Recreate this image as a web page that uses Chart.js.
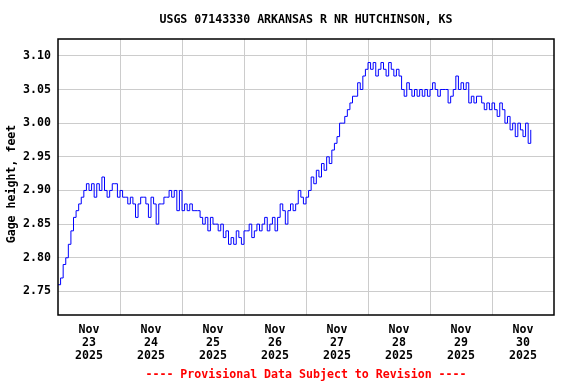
<!DOCTYPE html>
<html><head><meta charset="utf-8">
<script src="https://cdn.jsdelivr.net/npm/chart.js@4/dist/chart.umd.min.js"></script>
<style>html,body{margin:0;padding:0;background:#fff;}canvas{display:block;}</style>
</head><body>
<canvas id="c" width="576" height="384"></canvas>
<script>
const titleText = 'USGS 07143330 ARKANSAS R NR HUTCHINSON, KS';
const yAxisTitle = 'Gage height, feet';
const footerText = '---- Provisional Data Subject to Revision ----';
// x axis: hours since Nov 23 2025 00:00
const dayLabelHours = [12, 36, 60, 84, 108, 132, 156, 180];
const dayLabels = [['Nov','23','2025'],['Nov','24','2025'],['Nov','25','2025'],['Nov','26','2025'],
                   ['Nov','27','2025'],['Nov','28','2025'],['Nov','29','2025'],['Nov','30','2025']];
const dayGridHours = [24, 48, 72, 96, 120, 144, 168];
const yTicks = [2.75, 2.80, 2.85, 2.90, 2.95, 3.00, 3.05, 3.10];
// hourly gage height readings (feet), starting Nov 23 00:00
const gageHeight = [
  2.76, 2.77, 2.79, 2.80, 2.82, 2.84, 2.86, 2.87, 2.88, 2.89, 2.90, 2.91,
  2.90, 2.91, 2.89, 2.91, 2.90, 2.92, 2.90, 2.89, 2.90, 2.91, 2.91, 2.89,
  2.90, 2.89, 2.89, 2.88, 2.89, 2.88, 2.86, 2.88, 2.89, 2.89, 2.88, 2.86,
  2.89, 2.88, 2.85, 2.88, 2.88, 2.89, 2.89, 2.90, 2.89, 2.90, 2.87, 2.90,
  2.87, 2.88, 2.87, 2.88, 2.87, 2.87, 2.87, 2.86, 2.85, 2.86, 2.84, 2.86,
  2.85, 2.85, 2.84, 2.85, 2.83, 2.84, 2.82, 2.83, 2.82, 2.84, 2.83, 2.82,
  2.84, 2.84, 2.85, 2.83, 2.84, 2.85, 2.84, 2.85, 2.86, 2.84, 2.85, 2.86,
  2.84, 2.86, 2.88, 2.87, 2.85, 2.87, 2.88, 2.87, 2.88, 2.90, 2.89, 2.88,
  2.89, 2.90, 2.92, 2.91, 2.93, 2.92, 2.94, 2.93, 2.95, 2.94, 2.96, 2.97,
  2.98, 3.00, 3.00, 3.01, 3.02, 3.03, 3.04, 3.04, 3.06, 3.05, 3.07, 3.08,
  3.09, 3.08, 3.09, 3.07, 3.08, 3.09, 3.08, 3.07, 3.09, 3.08, 3.07, 3.08,
  3.07, 3.05, 3.04, 3.06, 3.05, 3.04, 3.05, 3.04, 3.05, 3.04, 3.05, 3.04,
  3.05, 3.06, 3.05, 3.04, 3.05, 3.05, 3.05, 3.03, 3.04, 3.05, 3.07, 3.05,
  3.06, 3.05, 3.06, 3.03, 3.04, 3.03, 3.04, 3.04, 3.03, 3.02, 3.03, 3.02,
  3.03, 3.02, 3.01, 3.03, 3.02, 3.00, 3.01, 2.99, 3.00, 2.98, 3.00, 2.99,
  2.98, 3.00, 2.97, 2.99
];
const points = gageHeight.map((v, i) => ({x: i, y: v}));

const FONT = 'DejaVu Sans Mono';
const decor = {
  id: 'decor',
  afterDraw(chart) {
    const ctx = chart.ctx, a = chart.chartArea;
    ctx.save();
    ctx.strokeStyle = '#000';
    ctx.lineWidth = 1.5;
    ctx.strokeRect(a.left, a.top, a.right - a.left, a.bottom - a.top);
    ctx.font = 'bold 11.6px "' + FONT + '"';
    ctx.textAlign = 'center';
    ctx.textBaseline = 'middle';
    ctx.fillStyle = '#000';
    ctx.fillText(titleText, 306, 20);
    ctx.fillStyle = '#ff0000';
    ctx.fillText(footerText, 306, 375);
    ctx.fillStyle = '#000';
    ctx.translate(12, 184);
    ctx.rotate(-Math.PI / 2);
    ctx.fillText(yAxisTitle, 0, 0);
    ctx.restore();
  }
};

new Chart(document.getElementById('c'), {
  type: 'line',
  data: { datasets: [{ data: points, borderColor: '#0000ff', borderWidth: 1, pointRadius: 0, stepped: true, fill: false }] },
  options: {
    responsive: false, animation: false, devicePixelRatio: 1,
    layout: { padding: { top: 39, right: 22, left: 0, bottom: 0 } },
    plugins: { legend: { display: false }, title: { display: false }, tooltip: { enabled: false } },
    scales: {
      x: {
        type: 'linear', min: 0, max: 192,
        afterBuildTicks(s) {
          s.ticks = dayGridHours.map(v => ({value: v, kind: 'grid'})).concat(dayLabelHours.map(v => ({value: v, kind: 'label'})));
        },
        afterFit(s) { s.height = 69; },
        border: { display: false },
        grid: {
          drawTicks: false,
          color: c => (c.tick && c.tick.kind === 'grid') ? '#cccccc' : 'rgba(0,0,0,0)',
          lineWidth: 1
        },
        ticks: {
          autoSkip: false, maxRotation: 0, minRotation: 0, padding: 8.5,
          color: '#000',
          font: { family: FONT, weight: 'bold', size: 11.6, lineHeight: 13 / 11.6 },
          callback: function(v) { const i = dayLabelHours.indexOf(v); return i >= 0 ? dayLabels[i] : ''; }
        }
      },
      y: {
        type: 'linear', min: 2.715, max: 3.125,
        afterBuildTicks(s) { s.ticks = yTicks.map(v => ({value: v})); },
        afterFit(s) { s.width = 58; },
        border: { display: false },
        grid: { drawTicks: false, color: '#cccccc', lineWidth: 1 },
        ticks: {
          padding: 7, color: '#000',
          font: { family: FONT, weight: 'bold', size: 11.6 },
          callback: v => v.toFixed(2)
        }
      }
    }
  },
  plugins: [decor]
});
</script>
</body></html>
